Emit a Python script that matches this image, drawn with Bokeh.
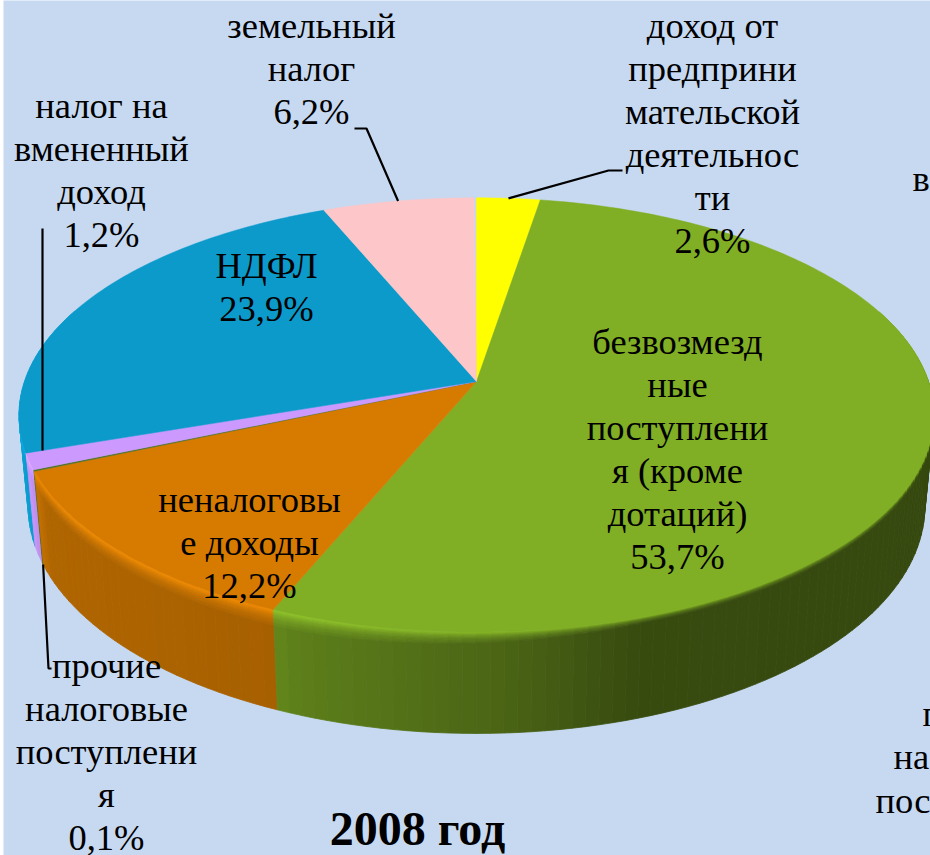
import numpy as np
from bokeh.core.properties import value
from bokeh.embed import file_html
from bokeh.models import Range1d
from bokeh.plotting import figure
from bokeh.resources import INLINE

# ---- data (clockwise from 12 o'clock) ----
names = ["доход от\nпредприни\nмательской\nдеятельнос\nти",
         "безвозмезд\nные\nпоступлени\nя (кроме\nдотаций)",
         "неналоговы\nе доходы",
         "прочие\nналоговые\nпоступлени\nя",
         "налог на\nвмененный\nдоход",
         "НДФЛ",
         "земельный\nналог"]
shares = [2.6, 53.7, 12.2, 0.1, 1.2, 23.9, 6.2]
colors = ["#ffff00", "#80ae24", "#d67b00", "#4f7324", "#cc99ff", "#0c9acb", "#fdc6c8"]
label_x = [712, 677, 249, 106, 101, 266, 311]
label_y = [25, 341, 499, 665, 105, 265, 25]
title = "2008 год"
clipped = [("в", 912, 178), ("п", 922, 713), ("на", 893, 756), ("пос", 875, 800)]

BG = "#c6d9f1"
SERIF = "Liberation Serif"
CX, CY, A, B, K, DEPTH, SHRINK = 476, 381, 452, 212, 0.154, 90, 0.98


def top(theta):
    u, v = np.sin(theta), np.cos(theta)
    w = 1 + K * v
    return CX + A * u / w, CY - B * v / w


def low(theta):
    x, y = top(theta)
    w = 1 + K * np.cos(theta)
    return CX + SHRINK * (x - CX), CY + SHRINK * (y - CY) + DEPTH / w


def rgb(h):
    return np.array([int(h[i:i + 2], 16) for i in (1, 3, 5)], float)


def hexc(c):
    c = np.clip(np.round(c), 0, 255).astype(int)
    return "#%02x%02x%02x" % tuple(c)


def side_factor(x):
    return np.interp(x, [17, 30, 45, 270, 300, 500, 640, 930],
                     [1.08, .95, .82, .78, .72, .58, .43, .42])


def glow_factor(x):
    return np.interp(x, [17, 300, 600, 930], [1.14, 1.12, 1.0, 1.0])


def blend_scale(x):
    return np.interp(x, [300, 650], [1.0, 0.35])


edges = np.radians(np.concatenate([[0], np.cumsum(shares)]) * 3.6)

p = figure(width=927, height=855, x_range=Range1d(3, 930), y_range=Range1d(855, 0),
           toolbar_location=None, output_backend="svg", min_border=0,
           background_fill_color=BG, border_fill_color=BG, outline_line_color=None)
p.axis.visible = False
p.grid.visible = False
p.margin = (0, 0, 0, 3)

# ---- side wall: slices of wall, painted back to front ----
bands = [0, .015, .03, .045, .06, .08, .10, .13, .16, 1]
xs, ys, cs = [], [], []
for i, col in enumerate(colors):
    base = rgb(col)
    a0, a1 = edges[i], edges[i + 1]
    n = max(1, int(np.degrees(a1 - a0) / 1.5))
    t = np.linspace(a0, a1, n + 1)
    for j in range(n):
        t0, t1 = t[j], t[j + 1]
        if np.cos((t0 + t1) / 2) > 0.35:
            continue
        tx0, ty0 = top(t0); tx1, ty1 = top(t1)
        lx0, ly0 = low(t0); lx1, ly1 = low(t1)
        mx = (tx0 + tx1) / 2
        cf, gf, bs = side_factor(mx), glow_factor(mx), blend_scale(mx)
        for b in range(len(bands) - 1):
            f0, f1 = bands[b] * bs, bands[b + 1] * bs
            if b == len(bands) - 2:
                f1 = 1
            mix = min(1, b / (len(bands) - 2))
            fac = gf + (cf - gf) * mix
            xs.append([tx0 + (lx0 - tx0) * f0, tx1 + (lx1 - tx1) * f0,
                       tx1 + (lx1 - tx1) * f1, tx0 + (lx0 - tx0) * f1])
            ys.append([ty0 + (ly0 - ty0) * f0, ty1 + (ly1 - ty1) * f0,
                       ty1 + (ly1 - ty1) * f1, ty0 + (ly0 - ty0) * f1])
            cs.append((np.cos((t0 + t1) / 2), hexc(base * fac)))
order = sorted(range(len(xs)), key=lambda k: -cs[k][0])
p.patches([xs[k] for k in order], [ys[k] for k in order],
          fill_color=[cs[k][1] for k in order], line_color=[cs[k][1] for k in order],
          line_width=0.8)

# ---- top face ----
tx, ty = [], []
for i in range(len(colors)):
    n = max(2, int(np.degrees(edges[i + 1] - edges[i]) / 1.0))
    t = np.linspace(edges[i], edges[i + 1], n + 1)
    rx, ry = top(t)
    tx.append([CX, *rx])
    ty.append([CY, *ry])
p.patches(tx, ty, fill_color=colors, line_color=colors, line_width=0.5)

# ---- leader lines ----
mid = (edges[:-1] + edges[1:]) / 2
lead = dict(line_color="black", line_width=2.2)
ax, ay = top(mid[6])
p.line([354, 366, ax], [128, 128, ay], **lead)
ax, ay = top(mid[0])
p.line([622, 608, ax], [170, 170, ay], **lead)
ax, ay = top(mid[4])
p.line([42, 42], [228, ay - 11], **lead)
ax, ay = low(mid[3])
p.line([ax, 48, 51], [ay, 668, 668], **lead)

# ---- texts ----
LINE = 43
SIZE = "36.5px"
tl, tlx, tly = [], [], []
for nm, s, lx, ly in zip(names, shares, label_x, label_y):
    rows = nm.split("\n") + [f"{s:.1f}%".replace(".", ",")]
    for r, row in enumerate(rows):
        tl.append(row); tlx.append(lx); tly.append(ly + r * LINE)
p.text(tlx, tly, text=tl, text_font=value(SERIF), text_font_size=SIZE,
       text_color="black", text_align="center", text_baseline="middle")
p.text([c[1] for c in clipped], [c[2] for c in clipped], text=[c[0] for c in clipped],
       text_font=value(SERIF), text_font_size=SIZE, text_color="black",
       text_align="left", text_baseline="middle")
p.text([417], [828], text=[title], text_font=value(SERIF), text_font_size="48px",
       text_font_style="bold", text_color="black", text_align="center",
       text_baseline="middle")

open("out.html", "w").write(file_html(p, INLINE))
